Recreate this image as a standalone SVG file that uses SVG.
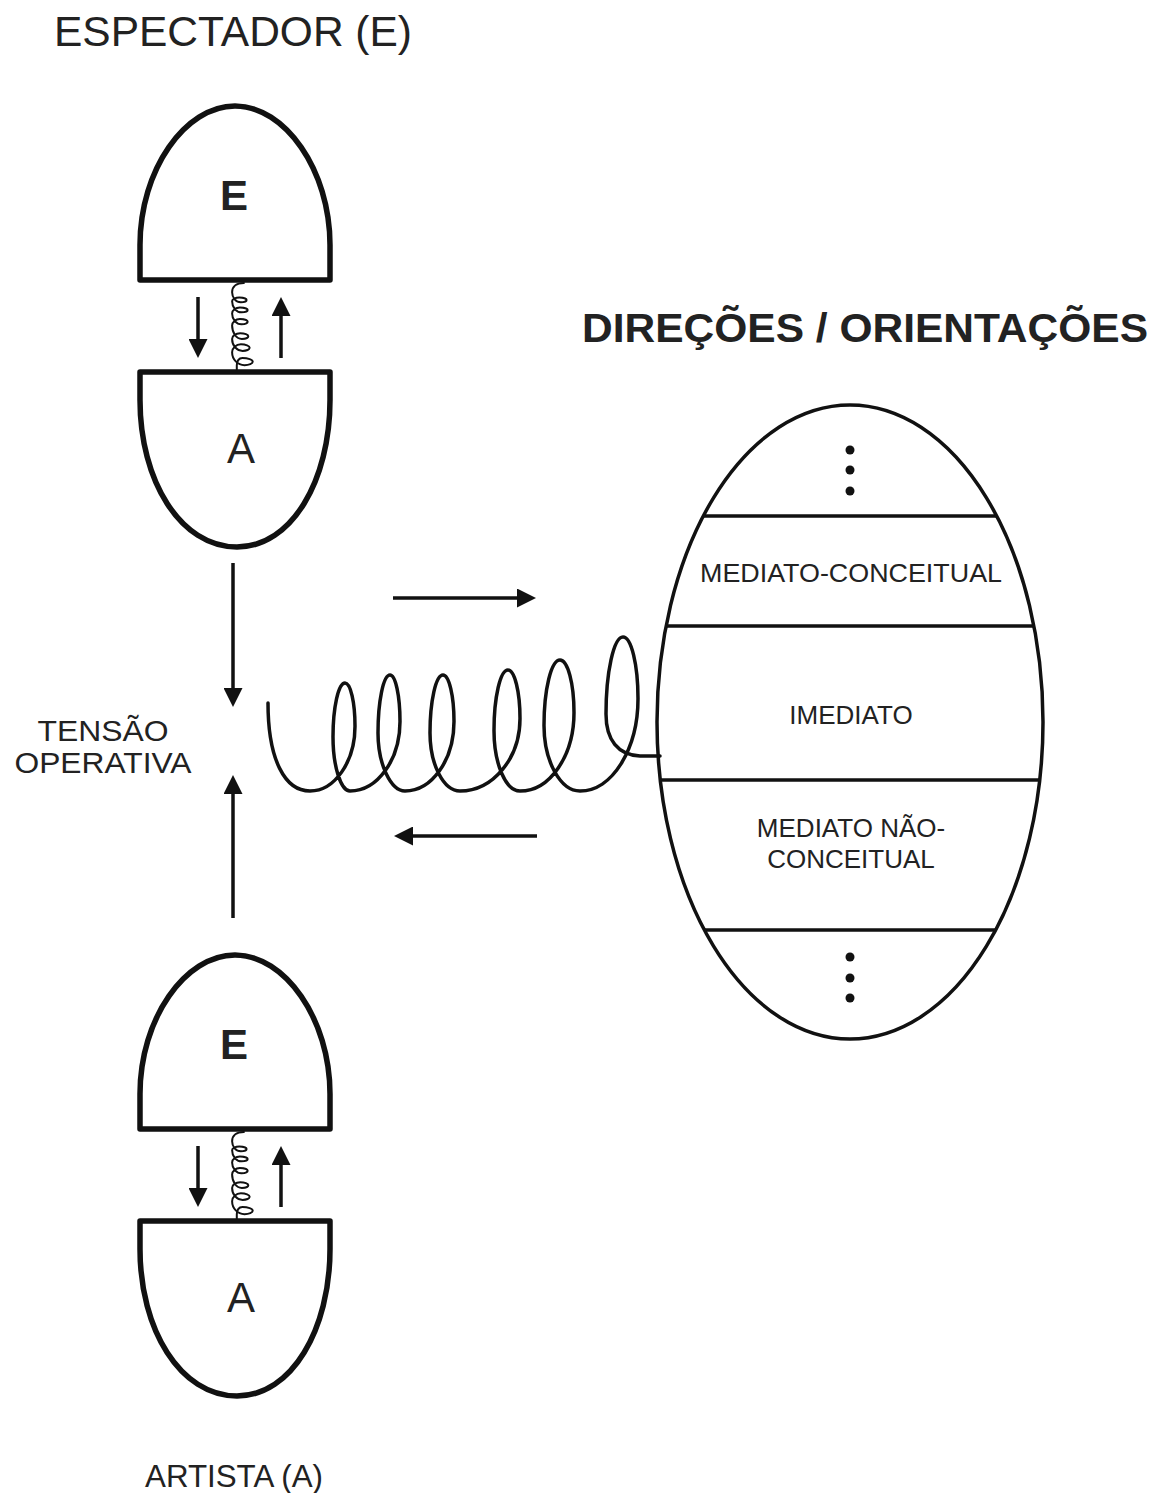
<svg xmlns="http://www.w3.org/2000/svg" xmlns:xlink="http://www.w3.org/1999/xlink" width="1160" height="1493" viewBox="0 0 1160 1493">
  <style>
    .shape { fill: #fff; stroke: #111; stroke-width: 5.5; stroke-linejoin: round; }
    .thin { fill: none; stroke: #111; stroke-width: 3.5; }
    .arrow { fill: none; stroke: #111; stroke-width: 3.5; marker-end: url(#head); }
    .coil { fill: none; stroke: #111; stroke-linecap: round; stroke-linejoin: round; }
    .lbl { font-family: "Liberation Sans", Arial, sans-serif; fill: #222; }
    .mid { text-anchor: middle; }
    .dot { fill: #111; }
  </style>
  <defs>
    <marker id="head" viewBox="0 0 19 19" refX="15" refY="9.5" markerWidth="19" markerHeight="19" markerUnits="userSpaceOnUse" orient="auto">
      <path d="M0,0 L19,9.5 L0,19 Z" fill="#111"/>
    </marker>
    <!-- coiled spring drawn left to right, slanted loops on top -->
    <path id="coil" vector-effect="non-scaling-stroke" d="M268,703 C268,760 285,791 310,791
      C334.75,791 355,761.6 355,726.2 C355,702.4 350.5,683 345,683 C338.4,683 333,707.3 333,737 C333,766.7 341,791 350,791
      C377.5,791 400,759.7 400,721.4 C400,695.9 395.5,675 390,675 C383.4,675 378,701.1 378,733 C378,764.4 390.9,791 405,791
      C432,791 454,759.7 454,721.4 C454,695.9 449,675 443,675 C435.8,675 430,701.1 430,733 C430,764.4 443.5,791 460,791
      C493,791 520,758.3 520,718.4 C520,691.8 514.6,670 508,670 C500.3,670 494,697.2 494,730.5 C494,763.8 505.7,791 520,791
      C550,791 574,755.6 574,712.4 C574,683.6 567.7,660 560,660 C551.2,660 544,689.5 544,725.5 C544,761.5 560.5,791 580,791
      C612,791 638,749.4 638,698.6 C638,664.7 631.3,637 623,637 C613.7,637 606,672.4 606,714 C606,740 618,755 640,756 L660,756"/>
  </defs>

  <rect width="1160" height="1493" fill="#fff"/>

  <!-- headings -->
  <text id="title-espectador" class="lbl" x="54" y="46" font-size="42" textLength="358" lengthAdjust="spacingAndGlyphs">ESPECTADOR (E)</text>
  <text id="title-direcoes" class="lbl" x="582" y="342" font-size="40" font-weight="bold" fill="#161616" textLength="566" lengthAdjust="spacingAndGlyphs">DIREÇÕES / ORIENTAÇÕES</text>
  <g id="label-tensao">
    <text class="lbl mid" x="103" y="741" font-size="30" textLength="131" lengthAdjust="spacingAndGlyphs">TENSÃO</text>
    <text class="lbl mid" x="103" y="773" font-size="30" textLength="177" lengthAdjust="spacingAndGlyphs">OPERATIVA</text>
  </g>
  <text id="title-artista" class="lbl" x="145" y="1487" font-size="32" textLength="178" lengthAdjust="spacingAndGlyphs">ARTISTA (A)</text>

  <!-- upper spectator / artist pair -->
  <g id="pair-top">
    <g id="pair-top-e">
      <path class="shape" d="M140,280 V245 C140,170 185,106 235,106 C285,106 330,170 330,245 V280 Z"/>
      <text class="lbl mid" x="234" y="210" font-size="42" font-weight="bold">E</text>
    </g>
    <g id="pair-top-a">
      <path class="shape" d="M140,372 V400 C140,480 180,547 237,547 C292,547 330,480 330,400 V372 Z"/>
      <text class="lbl mid" x="241" y="463" font-size="42">A</text>
    </g>
  </g>

  <!-- lower spectator / artist pair -->
  <g id="pair-bottom">
    <g id="pair-bottom-e">
      <path class="shape" d="M140,1129 V1094 C140,1019 185,955 235,955 C285,955 330,1019 330,1094 V1129 Z"/>
      <text class="lbl mid" x="234" y="1059" font-size="42" font-weight="bold">E</text>
    </g>
    <g id="pair-bottom-a">
      <path class="shape" d="M140,1221 V1249 C140,1329 180,1396 237,1396 C292,1396 330,1329 330,1249 V1221 Z"/>
      <text class="lbl mid" x="241" y="1312" font-size="42">A</text>
    </g>
  </g>

  <!-- directions / orientations ellipse -->
  <g id="directions">
    <ellipse class="thin" cx="850" cy="722" rx="193" ry="317"/>
    <line class="thin" stroke-width="4" x1="703" y1="516" x2="997" y2="516"/>
    <line class="thin" stroke-width="4" x1="666" y1="626" x2="1034" y2="626"/>
    <line class="thin" stroke-width="4" x1="660" y1="780" x2="1040" y2="780"/>
    <line class="thin" stroke-width="4" x1="704" y1="930" x2="996" y2="930"/>
    <circle class="dot" cx="850" cy="450" r="4.5"/>
    <circle class="dot" cx="850" cy="470" r="4.5"/>
    <circle class="dot" cx="850" cy="491" r="4.5"/>
    <text class="lbl mid" x="851" y="582" font-size="26" textLength="302" lengthAdjust="spacingAndGlyphs">MEDIATO-CONCEITUAL</text>
    <text class="lbl mid" x="851" y="724" font-size="26">IMEDIATO</text>
    <text class="lbl mid" x="851" y="837" font-size="26">MEDIATO NÃO-</text>
    <text class="lbl mid" x="851" y="868" font-size="26">CONCEITUAL</text>
    <circle class="dot" cx="850" cy="957" r="4.5"/>
    <circle class="dot" cx="850" cy="978" r="4.5"/>
    <circle class="dot" cx="850" cy="998" r="4.5"/>
  </g>

  <!-- connectors: arrows and springs -->
  <g id="connectors">
    <line class="arrow" x1="198" y1="297" x2="198" y2="354"/>
    <line class="arrow" x1="281" y1="358" x2="281" y2="301"/>
    <line class="arrow" x1="198" y1="1146" x2="198" y2="1203"/>
    <line class="arrow" x1="281" y1="1207" x2="281" y2="1150"/>
    <line class="arrow" x1="233" y1="563" x2="233" y2="703"/>
    <line class="arrow" x1="233" y1="918" x2="233" y2="779"/>
    <line class="arrow" x1="393" y1="598" x2="532" y2="598"/>
    <line class="arrow" x1="537" y1="836" x2="398" y2="836"/>
    <use xlink:href="#coil" class="coil" stroke-width="3.5"/>
    <use xlink:href="#coil" class="coil" stroke-width="2" transform="matrix(0 0.222 -0.134 0 338.1 223.5)"/>
    <use xlink:href="#coil" class="coil" stroke-width="2" transform="matrix(0 0.222 -0.134 0 338.1 1072.5)"/>
  </g>
</svg>
